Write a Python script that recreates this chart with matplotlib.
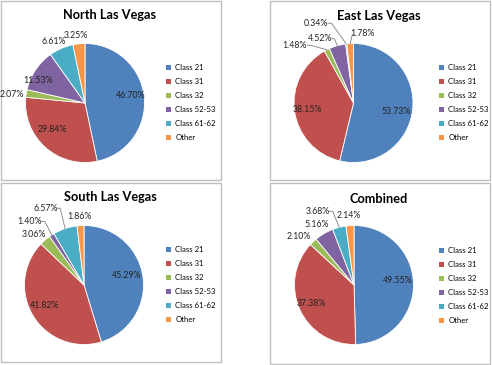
import matplotlib
matplotlib.use("Agg")
import matplotlib.pyplot as plt
import matplotlib.patches as p
import numpy as np

plt.rcParams['font.family'] = ['Lato', 'DejaVu Sans']

# data
classes = ["Class 21", "Class 31", "Class 32", "Class 52-53", "Class 61-62", "Other"]
north = [46.70, 29.84, 2.07, 11.53, 6.61, 3.25]
east = [53.73, 38.15, 1.48, 4.52, 0.34, 1.78]
south = [45.29, 41.82, 3.06, 1.40, 6.57, 1.86]
combined = [49.55, 37.38, 2.10, 5.16, 3.68, 2.14]
titles = ["North Las Vegas", "East Las Vegas", "South Las Vegas", "Combined"]

colors = ["#4F81BD", "#C0504D", "#9BBB59", "#8064A2", "#4BACC6", "#F79646"]

W, H = 492, 365
R = 59.5   # pie radius in px
K = 1.45   # axes half-width in radius units

# layout per panel (pixel coords, y from top)
panels = [
    dict(vals=north, title=titles[0], box=(1, 1, 221, 180), c=(85, 103), t=(110, 15), lg=(166, 64),
         lab=[(0.76, 0.13), (-0.55, -0.45), (-1.23, 0.15), (-0.79, 0.37), (-0.52, 1.04), (-0.15, 1.13)],
         lead=[]),
    dict(vals=east, title=titles[1], box=(270, 1, 490, 180), c=(353.5, 103), t=(379, 16), lg=(439, 64),
         lab=[(0.72, -0.14), (-0.77, -0.11), (-1.0, 0.97), (-0.57, 1.08), (-0.63, 1.34), (0.15, 1.17)],
         lead=[(2, (-0.78, 0.97)), (3, (-0.38, 1.08)), (4, (-0.43, 1.34)), (5, (-0.02, 1.15))]),
    dict(vals=south, title=titles[2], box=(1, 183, 221, 362), c=(84, 285), t=(110, 197), lg=(166, 246),
         lab=[(0.72, 0.16), (-0.66, -0.35), (-0.85, 0.85), (-0.91, 1.07), (-0.65, 1.29), (-0.07, 1.15)],
         lead=[(3, (-0.72, 1.07)), (4, (-0.46, 1.29))]),
    dict(vals=combined, title=titles[3], box=(270, 183, 490, 364), c=(354, 285), t=(379, 199), lg=(439, 247),
         lab=[(0.73, 0.07), (-0.71, -0.31), (-0.92, 0.81), (-0.63, 1.01), (-0.60, 1.24), (-0.08, 1.16)],
         lead=[(4, (-0.42, 1.24))]),
]

fig = plt.figure(figsize=(W / 100, H / 100), dpi=100)

# panel borders
bg = fig.add_axes([0, 0, 1, 1])
bg.set_xlim(0, W)
bg.set_ylim(H, 0)
bg.axis('off')
for pn in panels:
    x0, y0, x1, y1 = pn["box"]
    bg.add_patch(p.Rectangle((x0, y0), x1 - x0, y1 - y0, fill=False, ec="#BFBFBF", lw=1.0))
    bg.text(pn["t"][0], pn["t"][1], pn["title"], ha="center", va="center",
            fontsize=9.2, fontweight="bold", color="black")

for pn in panels:
    cx, cy = pn["c"]
    side = 2 * K * R
    ax = fig.add_axes([(cx - K * R) / W, 1 - (cy + K * R) / H, side / W, side / H])
    vals = pn["vals"]
    wedges, _ = ax.pie(vals, colors=colors, startangle=90, counterclock=False, radius=1,
                       wedgeprops=dict(edgecolor="white", linewidth=0.6))
    ax.set_xlim(-K, K)
    ax.set_ylim(-K, K)
    ax.axis('off')
    for i, v in enumerate(vals):
        x, y = pn["lab"][i]
        ax.text(x, y, "%.2f%%" % v, ha="center", va="center", fontsize=6.3, color="#222222")

    # leader lines from label to slice edge
    total = sum(vals)
    cum = np.cumsum([0] + vals[:-1])
    for i, (lx, ly) in pn["lead"]:
        mid = np.deg2rad(90 - 360 * (cum[i] + vals[i] / 2) / total)
        ex, ey = np.cos(mid) * 1.0, np.sin(mid) * 1.0
        if lx < ex:
            xs = [lx, lx + 0.06, ex]
            ys = [ly, ly, ey]
        else:
            xs = [lx, ex]
            ys = [ly, ey]
        ax.plot(xs, ys, color="#7F7F7F", lw=0.6, clip_on=False)

    handles = [p.Patch(facecolor=c, edgecolor="none") for c in colors]
    fig.legend(handles, classes, loc="upper left",
               bbox_to_anchor=(pn["lg"][0] / W, 1 - pn["lg"][1] / H),
               frameon=False, fontsize=5.6, handlelength=0.7, handleheight=0.7,
               handletextpad=0.5, labelspacing=0.9, borderpad=0, borderaxespad=0)

fig.savefig("out.png", dpi=100)
